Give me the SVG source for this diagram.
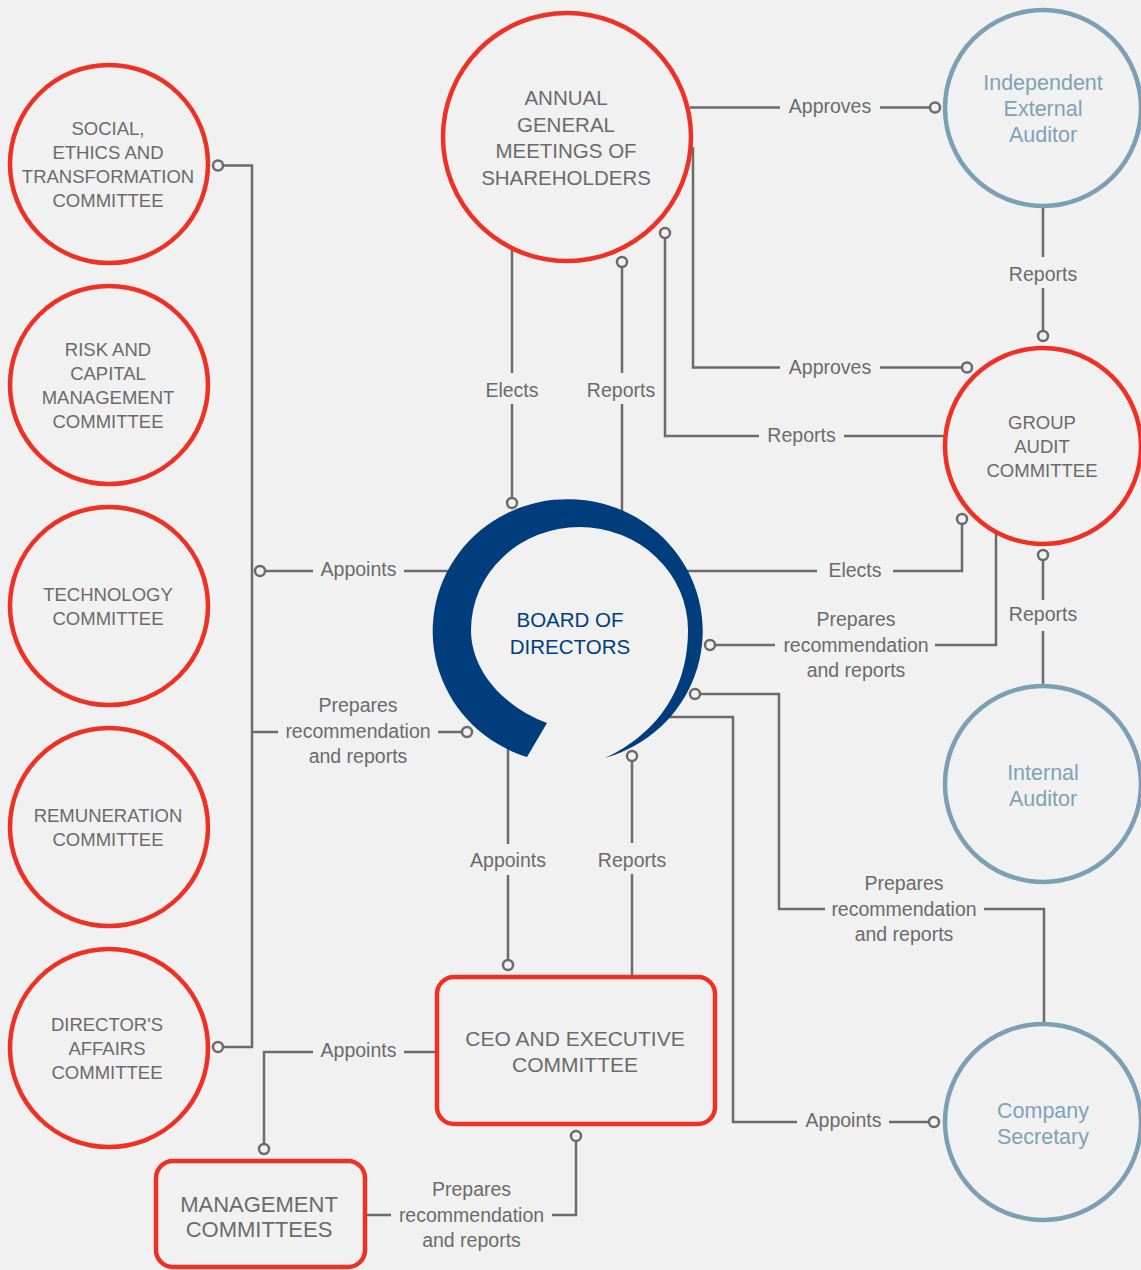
<svg xmlns="http://www.w3.org/2000/svg" width="1141" height="1270" viewBox="0 0 1141 1270">
<style>
.ln{fill:none;stroke:#6b6b6b;stroke-width:2.5}
.dot{fill:#f1f1f1;stroke:#6b6b6b;stroke-width:2.5}
.red{fill:none;stroke:#ee3124;stroke-width:4.5}
.blu{fill:none;stroke:#7b9fb5;stroke-width:4.5}
.nt{font-family:"Liberation Sans",Arial,sans-serif;fill:#6b6b6b;text-anchor:middle;font-size:18.5px}
.big{font-size:20.5px}
.ceo{font-size:21px}
.mg{font-size:22px}
.bt{font-family:"Liberation Sans",Arial,sans-serif;fill:#7fa2b8;text-anchor:middle;font-size:21.5px}
.lb{font-family:"Liberation Sans",Arial,sans-serif;font-size:19.5px;fill:#6b6b6b;text-anchor:middle}
</style>
<rect width="1141" height="1270" fill="#f1f1f1"/>

<g id="connectors">
  <path class="ln" d="M223,165.5 H252 V1047 H223"/>
  <circle class="dot" cx="218" cy="165.5" r="5"/>
  <circle class="dot" cx="218" cy="1047" r="5"/>

  <path class="ln" d="M265,571 H313 M404,571 H452"/>
  <circle class="dot" cx="260" cy="571" r="5"/>
  <text class="lb" x="358.5" y="576">Appoints</text>

  <path class="ln" d="M252,732 H278 M438,732 H462"/>
  <circle class="dot" cx="467" cy="732" r="5"/>
  <text class="lb" x="358" y="712">Prepares</text>
  <text class="lb" x="358" y="738">recommendation</text>
  <text class="lb" x="358" y="763">and reports</text>

  <path class="ln" d="M512,250 V373 M512,404 V498"/>
  <circle class="dot" cx="512" cy="503" r="5"/>
  <text class="lb" x="512" y="397">Elects</text>

  <path class="ln" d="M622,267 V373 M622,404 V515"/>
  <circle class="dot" cx="622" cy="262" r="5"/>
  <text class="lb" x="621" y="397">Reports</text>

  <path class="ln" d="M690,107.5 H780 M880,107.5 H930"/>
  <circle class="dot" cx="935" cy="107.5" r="5"/>
  <text class="lb" x="830" y="113">Approves</text>

  <path class="ln" d="M693,147 V367.5 H780 M880,367.5 H962"/>
  <circle class="dot" cx="967" cy="367.5" r="5"/>
  <text class="lb" x="830" y="374">Approves</text>

  <path class="ln" d="M665,238 V436 H759 M844,436 H945"/>
  <circle class="dot" cx="665" cy="233" r="5"/>
  <text class="lb" x="801.5" y="442">Reports</text>

  <path class="ln" d="M1043,208 V257 M1043,288 V331"/>
  <circle class="dot" cx="1043" cy="336" r="5"/>
  <text class="lb" x="1043" y="281">Reports</text>

  <path class="ln" d="M684,571 H817 M893,571 H962 V524"/>
  <circle class="dot" cx="962" cy="519" r="5"/>
  <text class="lb" x="855" y="577">Elects</text>

  <path class="ln" d="M715,645 H775 M935,645 H996 V532"/>
  <circle class="dot" cx="710" cy="645" r="5"/>
  <text class="lb" x="856" y="626">Prepares</text>
  <text class="lb" x="856" y="651.5">recommendation</text>
  <text class="lb" x="856" y="677">and reports</text>

  <path class="ln" d="M1043,560 V600 M1043,631 V686"/>
  <circle class="dot" cx="1043" cy="555" r="5"/>
  <text class="lb" x="1043" y="621">Reports</text>

  <path class="ln" d="M700,694 H779 V909 H825 M984,909 H1044 V1024"/>
  <circle class="dot" cx="695" cy="694" r="5"/>
  <text class="lb" x="904" y="890">Prepares</text>
  <text class="lb" x="904" y="915.5">recommendation</text>
  <text class="lb" x="904" y="940.5">and reports</text>

  <path class="ln" d="M665,717 H733 V1122 H797 M889,1122 H929"/>
  <circle class="dot" cx="934" cy="1122" r="5"/>
  <text class="lb" x="843.5" y="1127">Appoints</text>

  <path class="ln" d="M508,745 V844 M508,875 V960"/>
  <circle class="dot" cx="508" cy="965" r="5"/>
  <text class="lb" x="508" y="867">Appoints</text>

  <path class="ln" d="M632,761 V843 M632,874 V975"/>
  <circle class="dot" cx="632" cy="756" r="5"/>
  <text class="lb" x="632" y="867">Reports</text>

  <path class="ln" d="M435,1052 H404 M313,1052 H264 V1144"/>
  <circle class="dot" cx="264" cy="1149" r="5"/>
  <text class="lb" x="358.5" y="1057">Appoints</text>

  <path class="ln" d="M366,1215 H391 M552,1215 H576 V1141"/>
  <circle class="dot" cx="576" cy="1136" r="5"/>
  <text class="lb" x="471.5" y="1196">Prepares</text>
  <text class="lb" x="471.5" y="1221.5">recommendation</text>
  <text class="lb" x="471.5" y="1246.5">and reports</text>
</g>

<g id="agm">
  <circle class="red" cx="567" cy="137" r="124"/>
  <text class="nt big" x="566" y="104.5">ANNUAL</text>
  <text class="nt big" x="566" y="131.5">GENERAL</text>
  <text class="nt big" x="566" y="158">MEETINGS OF</text>
  <text class="nt big" x="566" y="184.5">SHAREHOLDERS</text>
</g>

<g id="social-ethics">
  <circle class="red" cx="109" cy="164" r="99"/>
  <text class="nt" x="108" y="135">SOCIAL,</text>
  <text class="nt" x="108" y="159">ETHICS AND</text>
  <text class="nt" x="108" y="183">TRANSFORMATION</text>
  <text class="nt" x="108" y="207">COMMITTEE</text>
</g>
<g id="risk-capital">
  <circle class="red" cx="109" cy="385" r="99"/>
  <text class="nt" x="108" y="356">RISK AND</text>
  <text class="nt" x="108" y="380">CAPITAL</text>
  <text class="nt" x="108" y="404">MANAGEMENT</text>
  <text class="nt" x="108" y="428">COMMITTEE</text>
</g>
<g id="technology">
  <circle class="red" cx="109" cy="606" r="99"/>
  <text class="nt" x="108" y="601">TECHNOLOGY</text>
  <text class="nt" x="108" y="625">COMMITTEE</text>
</g>
<g id="remuneration">
  <circle class="red" cx="109" cy="827" r="99"/>
  <text class="nt" x="108" y="822">REMUNERATION</text>
  <text class="nt" x="108" y="846">COMMITTEE</text>
</g>
<g id="directors-affairs">
  <circle class="red" cx="109" cy="1048" r="99"/>
  <text class="nt" x="107" y="1031">DIRECTOR'S</text>
  <text class="nt" x="107" y="1055">AFFAIRS</text>
  <text class="nt" x="107" y="1079">COMMITTEE</text>
</g>

<g id="board">
  <path fill="#003d7d" d="M527,757 A135,132 0 1 1 605,758 C640,742 688,705 688,630 A108.5,103 0 0 0 471,630 C471,668 500,705 547,723 Z"/>
  <text x="570" y="627" font-family="Liberation Sans, Arial, sans-serif" font-size="20.5" fill="#003d7d" text-anchor="middle">BOARD OF</text>
  <text x="570" y="653.5" font-family="Liberation Sans, Arial, sans-serif" font-size="20.5" fill="#003d7d" text-anchor="middle">DIRECTORS</text>
</g>

<g id="external-auditor">
  <circle class="blu" cx="1043" cy="108" r="98"/>
  <text class="bt" x="1043" y="89.5">Independent</text>
  <text class="bt" x="1043" y="116">External</text>
  <text class="bt" x="1043" y="142">Auditor</text>
</g>
<g id="group-audit">
  <circle class="red" cx="1043" cy="446" r="98"/>
  <text class="nt" x="1042" y="429">GROUP</text>
  <text class="nt" x="1042" y="453">AUDIT</text>
  <text class="nt" x="1042" y="477">COMMITTEE</text>
</g>
<g id="internal-auditor">
  <circle class="blu" cx="1043" cy="784" r="98"/>
  <text class="bt" x="1043" y="779.5">Internal</text>
  <text class="bt" x="1043" y="805.5">Auditor</text>
</g>
<g id="company-secretary">
  <circle class="blu" cx="1043" cy="1122" r="98"/>
  <text class="bt" x="1043" y="1117.5">Company</text>
  <text class="bt" x="1043" y="1143.5">Secretary</text>
</g>

<g id="ceo">
  <rect class="red" x="437" y="977" width="278" height="147" rx="17"/>
  <text class="nt ceo" x="575" y="1045.5">CEO AND EXECUTIVE</text>
  <text class="nt ceo" x="575" y="1071.5">COMMITTEE</text>
</g>
<g id="management">
  <rect class="red" x="156" y="1161" width="209" height="106" rx="17"/>
  <text class="nt mg" x="259" y="1211.5">MANAGEMENT</text>
  <text class="nt mg" x="259" y="1237">COMMITTEES</text>
</g>
</svg>
